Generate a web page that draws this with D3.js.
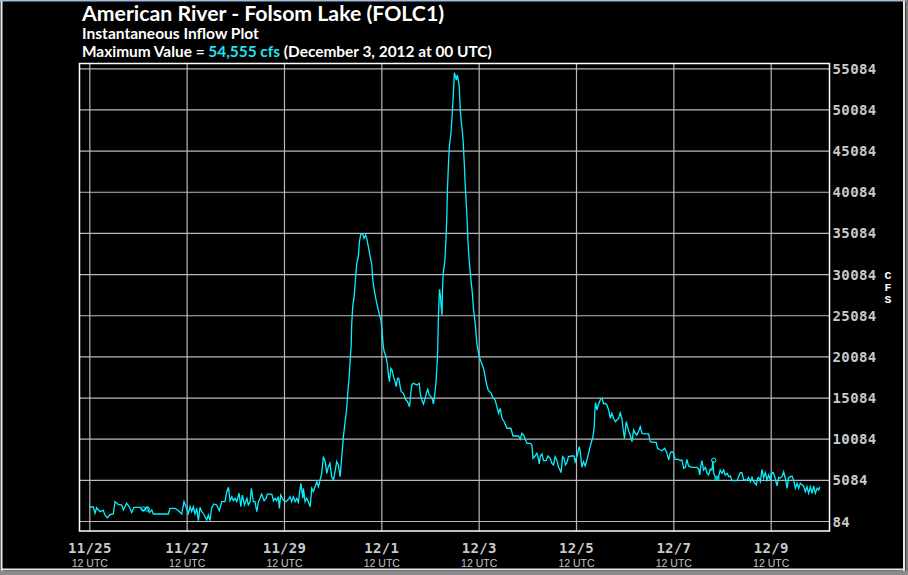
<!DOCTYPE html>
<html><head><meta charset="utf-8">
<script src="https://cdn.jsdelivr.net/npm/d3@7/dist/d3.min.js"></script>
<style>
html,body{margin:0;padding:0;background:#000;}
svg{display:block;}
</style></head>
<body>
<svg id="c" width="908" height="575"></svg>
<script>
// ---- data (hours after 2012-11-25 12 UTC, instantaneous inflow in cfs) ----
const hours = [0,2,2.8,3.6,5.3,6.9,7.7,8.9,10.2,11.8,12.7,14.3,16,16.8,18.4,19.7,20.9,22,25,26.6,28.6,29.6,30.8,31.6,39,39.8,42.3,43.9,45.6,46.7,47.7,48.9,49.7,50.5,51.3,52.1,53,53.8,54.6,55.4,56.2,57.9,58.7,59.5,60.4,61.5,62.8,64.1,65.3,66.9,67.8,68.6,69.4,70.3,71,71.9,72.7,73.9,74.7,75.5,76.5,77.7,78.4,79.3,79.9,80.9,81.7,82.6,83.4,84.2,85,86.2,87.2,87.8,90,90.8,91.6,92.4,93.2,93.7,94.4,95.7,97,98.2,99,99.8,100.6,101.5,102.3,103.1,104.3,105.3,105.6,106.4,107.2,108,108.9,109.7,110.5,111.3,112.2,113,113.8,114.6,115.4,116.3,117.1,117.9,118.7,119.5,120.4,121.2,122,122.8,123.7,124.5,125.3,126.1,127,127.5,128.1,128.6,129.1,129.4,129.9,130.6,131.2,131.9,132.7,133.2,133.9,134.9,135.5,136.3,136.8,137.6,138.5,139.3,139.8,140.5,141.4,142.3,143.1,143.8,144.4,144.9,145.4,146.4,147,147.5,148,148.7,149.3,150,150.8,151.3,152,152.6,153.3,153.8,154.9,155.9,156.9,157.9,158.6,159.1,159.9,161.5,162.7,163.2,164,164.8,165.6,166.4,166.9,167.6,168.4,169.2,169.7,170.4,171,171.7,172.2,172.7,173.2,173.5,173.9,174.2,174.6,175.3,175.8,176.3,176.6,177.1,177.6,178.3,178.8,179.3,179.8,180,180.6,181,181.5,182,182.4,182.9,183.4,183.9,184.4,184.9,185.3,185.8,186.3,186.7,187.3,187.8,188.3,188.9,189.4,190.3,191.1,191.9,192.7,193.6,194.4,195.2,196,196.8,198,199,200.1,201,201.8,202.6,203.5,204.6,205.9,207.9,208.9,211.6,212.5,213.3,214.1,215,215.8,217.5,218.2,218.8,219.8,220.7,221.2,221.9,222.4,223.2,224,225.3,226.1,227.3,228.1,228.9,229.7,230.5,231.3,232.1,232.6,233.4,234.1,234.8,235.4,236.3,237.9,239,239.6,240.5,241.6,242.1,242.9,243.7,244.5,245.4,246.2,247,247.8,248.3,249,249.3,249.6,250.3,251,251.6,252.3,252.9,253.6,254.4,255.2,256.1,256.9,257.7,258.5,259.4,260.2,261,261.8,262.6,263.4,263.9,264.8,265.4,266.1,266.7,267.6,268.4,269.2,270,270.8,271.7,272.5,273.3,275.8,276.6,279.6,280.2,281.6,282.4,283.7,284.8,285.7,286.5,287.3,288.1,288.9,290.6,291.4,292.2,293.1,293.9,294.7,295.5,297.2,299.7,300.5,301,301.6,302.1,302.9,303.8,304.6,305.4,306.2,307,307.5,307.9,308.7,309.5,310.3,311.1,312,312.8,313.6,314.5,315.3,316.1,316.9,319.4,320.2,321,321.8,322.7,324.3,325.1,326,326.8,327.6,328.9,329.6,330,330.9,331.7,332.5,333.4,334.2,335,335.8,336.3,337.2,338,339.1,339.9,340.7,341.6,342.4,343.2,344.1,344.8,345.7,346.5,347.3,348.2,349,349.8,350.6,352.2,353.1,353.9,354.7,355.6,356.4,357.2,358,358.9,359.7,360.2];
const cfs = [1785,1785,1020,1700,1220,1380,813,490,850,935,2430,2090,2030,1420,2230,1820,1100,1750,1750,1340,1750,1100,1420,935,935,1625,1625,1340,935,2430,1820,1020,1820,1220,1820,935,1625,125,1750,1220,1020,205,813,125,1750,2150,2030,1340,2430,2430,3650,4180,2550,3040,2550,2840,2430,3450,1820,3240,2030,2840,2030,2430,4050,2430,2430,1220,2430,2840,3360,2550,2840,3360,3360,2550,2840,2550,3040,1625,3240,2640,2430,2720,3040,2430,3040,2430,2840,2350,4660,2840,4050,2430,2840,2430,1820,4050,3650,4250,4860,4250,5065,5880,7900,7290,5880,6680,7090,5470,5065,6070,7290,6890,5470,7900,10330,12030,13970,15800,17420,19440,21260,24020,26130,27340,29370,31390,32280,34020,34955,34900,34430,34830,34430,33410,32200,31190,29370,28150,26940,25930,25110,24500,23080,21470,20650,20040,19040,17820,17010,18640,18440,17620,17010,16400,17420,17420,16400,15800,15600,14870,14590,13970,15800,16690,16810,16610,16810,15600,14790,14300,14990,15800,16080,15400,15190,14870,14300,15600,17010,20050,25320,28230,27340,26130,25110,28590,30380,31600,33900,37060,40300,43420,45770,47100,48890,51030,53340,54555,54070,53660,54270,53580,52940,50220,48600,47590,45970,43540,41310,39090,36660,34230,31800,30380,29160,27750,25930,24100,21670,20530,19730,19160,18640,17620,16610,15920,15680,15110,14790,13970,13170,13770,12560,12150,11350,11350,10410,10410,10010,10740,10540,10010,9520,9520,9320,7700,7980,8310,7900,7010,7980,8230,7410,7410,7980,7700,7090,6890,7900,7500,6680,6280,5960,7900,7700,6890,7090,7900,7980,7980,7290,7980,9110,8520,6610,7290,6770,7500,8310,9110,9840,10250,11540,13360,14460,13570,14180,14580,14990,14990,14300,14380,14180,13570,12560,13170,12560,12150,12360,12560,13240,12560,10930,10130,12150,11540,10930,10530,9720,11150,10740,10530,10930,11540,10740,10660,10660,9720,9600,8920,8710,8630,8920,8380,7490,8380,8520,8310,7580,7580,7410,7500,6490,6610,7580,6770,6610,6610,6370,5670,6890,7410,6280,6610,5880,5670,6370,6280,7410,5880,5470,5150,5470,6280,5880,6280,5670,5880,5470,5550,4980,4980,5470,5960,5960,5065,5065,5390,4860,5390,4860,4460,5310,5390,4860,6360,5310,5960,5065,5670,5065,5880,5960,5470,4340,5390,5310,5470,6070,5310,4060,5310,5470,5550,5065,4060,4660,4060,4660,4340,3650,4250,3450,4250,3450,4340,3450,4060,3850,4250];
const markerHours = [26.6, 28.6, 307.9, 309.5];
const markerCfs = [1542, 1542, 7460, 5270];
const yTicks = [84,5084,10084,15084,20084,25084,30084,35084,40084,45084,50084,55084];
const xTickHours = [0,48,96,144,192,240,288,336];
const xTickLabels = ["11/25","11/27","11/29","12/1","12/3","12/5","12/7","12/9"];
const xTickSub = "12 UTC";
const titleText = "American River - Folsom Lake (FOLC1)";
const subtitleText = "Instantaneous Inflow Plot";
const maxPrefix = "Maximum Value = ";
const maxValueText = "54,555 cfs";
const maxSuffix = " (December 3, 2012 at 00 UTC)";
const unitLabel = ["C","F","S"];

// ---- layout ----
const W = 908, H = 575;
const L = 79.5, R = 829.5, T = 63.5, B = 531;
const t0 = Date.UTC(2012, 10, 25, 12);
const hr = 3600e3;
const toDate = h => new Date(t0 + h * hr);

const svg = d3.select("#c");
svg.append("rect").attr("width", W).attr("height", H).attr("fill", "#000");

const x = d3.scaleUtc().domain([toDate(-4.93), toDate(365.1)]).range([79.3, 829.7]);
const y = d3.scaleLinear().domain([84, 55084]).range([521, 68.3]);

const labelFont = "'DejaVu Sans Mono', monospace";
const gridColor = "#b9b9b9";
const labelColor = "#c9c9c9";

// y grid + labels
const gy = svg.append("g").attr("transform", `translate(${L},0)`)
  .call(d3.axisRight(y).tickValues(yTicks).tickSize(R - L).tickPadding(3).tickFormat(d => String(d)));
gy.select(".domain").remove();
gy.selectAll(".tick line").attr("stroke", gridColor).attr("stroke-width", 1.2);
gy.selectAll(".tick text").attr("fill", labelColor)
  .style("font-family", labelFont).style("font-size", "14px").style("font-weight", "bold")
  .style("letter-spacing", "0.4px").attr("dy", "0.36em");

// x grid + labels
const gx = svg.append("g").attr("transform", `translate(0,${B})`)
  .call(d3.axisBottom(x).tickValues(xTickHours.map(toDate)).tickSize(-(B - T)).tickPadding(12)
    .tickFormat((d, i) => xTickLabels[i]));
gx.select(".domain").remove();
gx.selectAll(".tick line").attr("stroke", gridColor).attr("stroke-width", 1.2);
gx.selectAll(".tick text").attr("fill", labelColor)
  .style("font-family", labelFont).style("font-size", "14px").style("font-weight", "bold")
  .style("letter-spacing", "0.3px");
gx.selectAll(".tick").append("text")
  .attr("y", 35.5).attr("fill", labelColor).attr("text-anchor", "middle")
  .style("font-family", "'Liberation Sans', Arial, sans-serif").style("font-size", "10.5px")
  .text(xTickSub);

// frame
svg.append("rect").attr("x", L).attr("y", T).attr("width", R - L).attr("height", B - T)
  .attr("fill", "none").attr("stroke", "#ffffff").attr("stroke-width", 1.5);

// series
const pts = hours.map((h, i) => [toDate(h), cfs[i]]);
const line = d3.line().x(d => x(d[0])).y(d => y(d[1]));
svg.append("path").datum(pts).attr("d", line)
  .attr("fill", "none").attr("stroke", "#08f0ff").attr("stroke-width", 1.3)
  .attr("stroke-linejoin", "miter");

svg.append("g").selectAll("circle").data(markerHours).join("circle")
  .attr("cx", d => x(toDate(d))).attr("cy", (d, i) => y(markerCfs[i]))
  .attr("r", 2.2).attr("fill", "none").attr("stroke", "#08f0ff").attr("stroke-width", 1);

// unit label
svg.append("g").selectAll("text").data(unitLabel).join("text")
  .attr("x", 888).attr("y", (d, i) => 278.5 + i * 12.4).attr("text-anchor", "middle")
  .attr("fill", "#ffffff").style("font-family", "'Liberation Mono', 'DejaVu Sans Mono', monospace")
  .style("font-size", "11.5px").style("font-weight", "bold").text(d => d);

// titles
const titleFont = "Lato, 'Open Sans', sans-serif";
function fit(sel, target) {
  const fs = parseFloat(sel.style("font-size"));
  const w = sel.node().getComputedTextLength();
  sel.style("font-size", (fs * target / w).toFixed(2) + "px");
}
const t1 = svg.append("text").attr("x", 82).attr("y", 20.5).attr("fill", "#fff")
  .style("font-family", titleFont).style("font-size", "20px").style("font-weight", "bold").text(titleText);
fit(t1, 362);
const t2 = svg.append("text").attr("x", 82).attr("y", 38.8).attr("fill", "#fff")
  .style("font-family", titleFont).style("font-size", "14px").style("font-weight", "bold").text(subtitleText);
fit(t2, 177);
const t3 = svg.append("text").attr("x", 82).attr("y", 56.5).attr("fill", "#fff")
  .style("font-family", titleFont).style("font-size", "14px").style("font-weight", "bold");
t3.append("tspan").text(maxPrefix);
t3.append("tspan").attr("fill", "#1fe3f2").text(maxValueText);
t3.append("tspan").text(maxSuffix);
fit(t3, 410);

// window border
svg.append("rect").attr("x", 0).attr("y", 0).attr("width", W).attr("height", 1.5).attr("fill", "#9fbbe0");
svg.append("line").attr("x1", 1.5).attr("x2", 1.5).attr("y1", 1).attr("y2", 571).attr("stroke", "#e8e8e8").attr("stroke-width", 2);
svg.append("line").attr("x1", 904).attr("x2", 904).attr("y1", 1).attr("y2", 571).attr("stroke", "#e8e8e8").attr("stroke-width", 2);
svg.append("rect").attr("x", 905.5).attr("y", 0).attr("width", 2.5).attr("height", H).attr("fill", "#7a7a7a");
svg.append("line").attr("x1", 1).attr("x2", 905).attr("y1", 569.5).attr("y2", 569.5).attr("stroke", "#e8e8e8").attr("stroke-width", 2);
svg.append("rect").attr("x", 0).attr("y", 571).attr("width", W).attr("height", 4).attr("fill", "#8a8a8a");
</script>
</body></html>
